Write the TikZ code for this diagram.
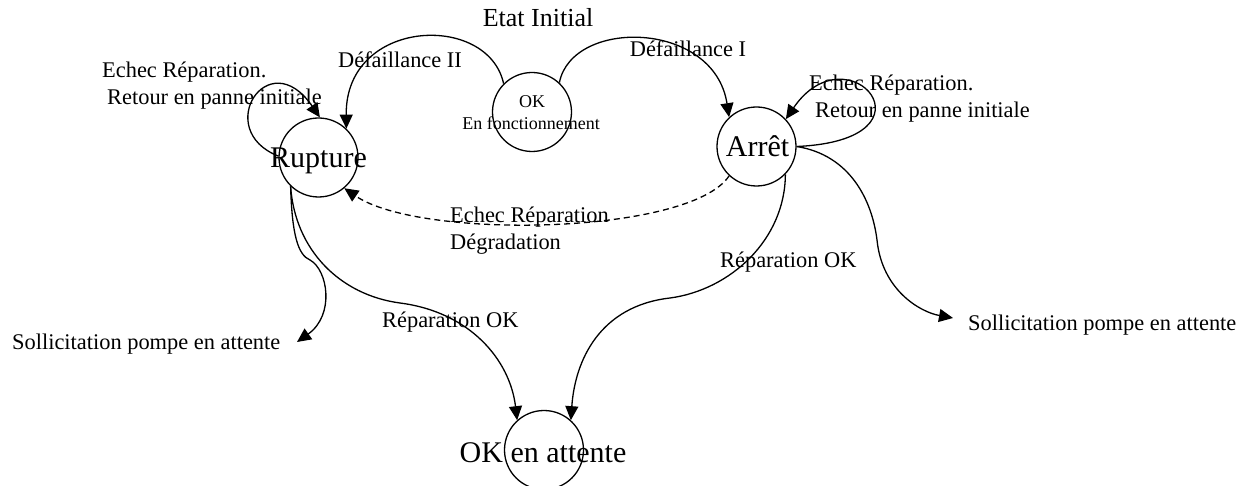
\documentclass[tikz,border=0pt]{standalone}
\usepackage{fontspec}
\setmainfont{Liberation Serif}
\usetikzlibrary{arrows.meta}
\begin{document}
\begin{tikzpicture}[x=1pt,y=-1pt,
  state/.style={circle,draw,line width=1.3pt,minimum size=79pt,inner sep=0pt},
  lbl/.style={inner sep=0pt,font=\fontsize{22.4}{26}\selectfont},
  big/.style={inner sep=0pt,font=\fontsize{30}{34}\selectfont},
  small/.style={inner sep=0pt,font=\fontsize{18}{21}\selectfont},
  title/.style={inner sep=0pt,font=\fontsize{26}{30}\selectfont},
  link/.style={line width=1.3pt,-{Triangle[length=14pt,width=13pt]}},
  fail/.style={link,dash pattern=on 6pt off 4pt}]
\useasboundingbox (0,0) rectangle (1248,486);

% states
\node[state] (ok)  at (532,112) {};
\node[state] (rup) at (318.5,157.5) {};
\node[state] (arr) at (756.5,146.5) {};
\node[state] (att) at (544,450) {};

% state names
\node[title,anchor=base] (tInit) at (538,27) {Etat Initial};
\node[small,anchor=base] (tOk) at (532,108) {OK};
\node[small,anchor=base] (tFonc) at (531,130) {En fonctionnement};
\node[big,anchor=base] (tRup) at (318.5,168) {Rupture};
\node[big,anchor=base] (tArr) at (757.5,157) {Arrêt};
\node[big,anchor=base] (tAtt) at (543,462) {OK en attente};

% transition labels
\node[lbl,anchor=base] (lD2) at (400,68) {Défaillance II};
\node[lbl,anchor=base] (lD1) at (688,57) {Défaillance I};
\node[lbl,anchor=base west] (lE1a) at (102,78) {Echec Réparation.};
\node[lbl,anchor=base west] (lE1b) at (107,105) {Retour en panne initiale};
\node[lbl,anchor=base west] (lE2a) at (809,91) {Echec Réparation.};
\node[lbl,anchor=base west] (lE2b) at (815,118) {Retour en panne initiale};
\node[lbl,anchor=base west] (lDga) at (450,223) {Echec Réparation};
\node[lbl,anchor=base west] (lDgb) at (450,250) {Dégradation};
\node[lbl,anchor=base west] (lR2) at (720,268) {Réparation OK};
\node[lbl,anchor=base west] (lR1) at (382,328) {Réparation OK};
\node[lbl,anchor=base west] (lS1) at (12,350) {Sollicitation pompe en attente};
\node[lbl,anchor=base west] (lS2) at (968,331) {Sollicitation pompe en attente};

\coordinate (s1tip) at (297,342);
\coordinate (s2tip) at (953,318);

% failures from the initial state
\draw[link] (ok.135) .. controls (488,12) and (345,18) .. (rup.46);
\draw[link] (ok.47) .. controls (572,18) and (714,20) .. (arr.133);

% failed repairs back to the same failure
\draw[link] (rup.178) .. controls (212,130) and (268,42) .. (rup.88);
\draw[link] (arr.0) .. controls (945,140) and (848,28) .. (arr.43);

% degradation
\draw[fail] (arr.-133) .. controls (690,235) and (420,240) .. (rup.-50);

% standby pump demand
\draw[link] (rup.-134) .. controls (292,235) and (298,255) .. (310,260)
  .. controls (328,270) and (335,315) .. (s1tip);
\draw[link] (arr.0) .. controls (850,155) and (872,200) .. (877,240)
  .. controls (882,290) and (920,312) .. (s2tip);

% successful repairs
\draw[link] (rup.-134) .. controls (295,250) and (340,295) .. (400,303)
  .. controls (470,312) and (510,360) .. (att.132);
\draw[link] (arr.-44) .. controls (785,240) and (730,290) .. (670,298)
  .. controls (600,306) and (575,360) .. (att.48);
\end{tikzpicture}
\end{document}
